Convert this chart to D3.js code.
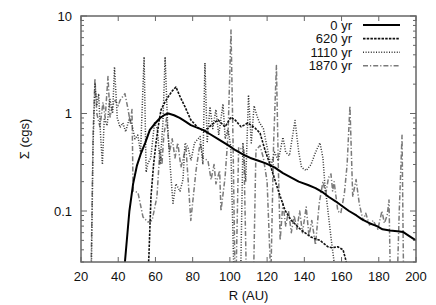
<!DOCTYPE html>
<html>
<head>
<meta charset="utf-8">
<script src="https://cdn.jsdelivr.net/npm/d3@7"></script>
<style>
  body { margin: 0; background: #fff; }
  text { font-family: "Liberation Sans", Arial, sans-serif; fill: #111; }
</style>
</head>
<body>
<svg id="chart" width="436" height="305"></svg>
<script>
// series: [R (AU), sigma (cgs)]
var yr0 = [[42,0.015],[43.6,0.03],[46,0.1],[48,0.19],[50,0.29],[52,0.38],[54.5,0.5],[57,0.68],[60,0.8],
  [62.5,0.9],[65,0.97],[67,1.0],[70,0.96],[73,0.9],[76,0.83],[79,0.76],[82,0.72],[85.5,0.68],[89,0.62],
  [93.5,0.55],[97,0.5],[100,0.46],[103,0.42],[107,0.38],[111,0.35],[115,0.33],[119,0.31],[124,0.28],
  [128.5,0.245],[133,0.22],[137,0.2],[142,0.185],[146,0.172],[150,0.155],[153,0.14],[157,0.125],[161,0.11],
  [164,0.1],[168,0.09],[171,0.082],[175,0.075],[179,0.07],[182,0.065],[186,0.063],[190,0.062],[193,0.061],
  [196,0.056],[200,0.05]];

var yr620 = [[55.5,0.015],[56.5,0.035],[57.6,0.14],[59,0.3],[60.3,0.5],[62,0.85],[63,1.09],[65,1.3],
  [66.7,1.47],[69,1.7],[71,1.87],[73.5,1.45],[75.9,1.17],[79,0.86],[83,0.71],[86,0.66],[88,0.7],[90,0.76],
  [93.6,0.86],[97.4,0.73],[100.6,0.92],[103,0.85],[106,0.73],[109.7,0.8],[113.5,0.71],[116.2,0.63],
  [118.9,0.42],[122.1,0.28],[125.9,0.164],[129.6,0.102],[132.8,0.081],[138.2,0.064],[143.6,0.054],
  [148.4,0.05],[152.7,0.043],[155,0.042],[158,0.043],[160.8,0.04],[162,0.033],[163.5,0.025],[165,0.015]];

var yr1110 = [[24,0.01],[25.5,0.02],[26.5,0.5],[27.5,2.0],[28.5,1.2],[29.5,1.6],[30.5,0.6],[31.5,0.3],
  [32.5,0.9],[34,0.75],[35.5,1.4],[37,1.0],[38,3.0],[39.5,0.9],[41,0.72],[42.5,0.8],[44,0.65],[46,0.9],
  [47.5,0.75],[49,0.55],[50.5,0.6],[52,0.4],[53.9,3.8],[55,0.25],[56,0.31],[57.5,0.35],[59.5,0.8],[61,0.7],
  [62.5,0.3],[64,0.8],[65.2,3.8],[66.5,0.8],[67.8,0.31],[69.4,0.12],[71,0.19],[73.2,0.16],[74.8,0.21],
  [75.9,0.5],[77.5,0.45],[79.1,0.33],[81,0.5],[84,0.58],[85.5,0.3],[86.6,3.3],[87.8,0.5],[89.3,1.17],
  [90.8,0.7],[92.5,1.1],[94,0.6],[96.3,1.25],[97.5,0.55],[99,0.7],[100.5,0.45],[102,0.03],[103.5,0.01],
  [105.5,0.01],[107,0.5],[108.5,0.2],[110,1.55],[111.5,0.5],[113,1.2],[114.5,0.95],[116,0.8],[118,0.7],
  [120,0.45],[122,0.29],[124,0.4],[126,0.33],[128.5,0.57],[130,0.4],[132,0.37],[135,0.85],[137,0.4],
  [138.5,0.28],[141,0.26],[143.6,0.3],[146,0.4],[148.4,0.5],[150,0.35],[151,0.19],[152.7,0.1],
  [154.3,0.054],[156,0.03],[157,0.01]];

var yr1870 = [[24.5,0.01],[25.5,0.03],[26.5,0.6],[27.5,2.3],[28.5,1.0],[30.2,0.73],[31.8,1.3],[33,0.9],
  [34.5,2.4],[35.6,0.92],[37,1.2],[38.3,1.37],[40,1.2],[41,1.37],[42.5,1.5],[43.6,1.6],[45.3,1.1],
  [46.5,0.8],[47.4,1.1],[48,0.16],[50.6,0.155],[53.3,0.087],[56,0.077],[58.2,0.08],[60.8,0.14],[62.4,0.42],
  [63.5,0.3],[64.5,0.6],[66,0.9],[67.5,0.4],[69,0.55],[70.5,0.35],[72,0.5],[73.7,0.28],[76.4,0.45],
  [79,0.08],[81.8,0.26],[84,0.5],[85.5,0.35],[88.2,0.33],[89.9,0.21],[91.5,0.3],[92.5,0.19],[94.5,0.26],
  [95.2,0.1],[97.4,0.22],[99,0.6],[100.6,7.2],[101.7,0.5],[103,0.01],[104.7,0.45],[107.5,0.42],[109.2,0.01],
  [112.4,0.01],[114,0.42],[116.2,0.47],[118,0.35],[120,0.2],[122,0.02],[123.5,0.5],[125,3.1],[126,0.3],
  [127,0.05],[128.5,0.12],[130,0.07],[131.5,0.1],[133,0.06],[134.5,0.09],[136,0.065],[137.5,0.1],[139,0.06],
  [141,0.11],[142.5,0.055],[144,0.08],[146,0.045],[148,0.12],[150,0.2],[151.5,0.15],[153,0.22],[154.3,0.24],
  [155.2,0.16],[156,0.2],[158,0.1],[159.6,0.095],[161.5,0.15],[163,0.3],[164.5,1.2],[166,0.14],[167.8,0.21],
  [169.5,0.12],[171.5,0.08],[173,0.095],[175,0.072],[177,0.08],[179.5,0.065],[181.7,0.1],[183,0.075],
  [184.5,0.09],[185.5,0.13],[186.5,0.01],[189.5,0.01],[191,0.1],[192.5,0.6],[193.5,0.01],[200,0.01]];

var seriesNames = ["0 yr", "620 yr", "1110 yr", "1870 yr"];
var xTicks = [20, 40, 60, 80, 100, 120, 140, 160, 180, 200];
var yTicks = [0.1, 1, 10];
var yTickLabels = ["0.1", "1", "10"];

var svg = d3.select('#chart');
var pl = 81, pr = 416, pt = 16, pb = 262;

var x = d3.scaleLinear().domain([20, 200]).range([pl, pr]);
var y = d3.scaleLog().domain([0.03, 10]).range([pb, pt]);

// minor log ticks
var yMinor = [];
[0.01, 0.1, 1].forEach(function(d) {
  for (var k = 2; k <= 9; k++) {
    var v = d * k;
    if (v >= 0.03 && v <= 10) yMinor.push(v);
  }
});

svg.append("clipPath").attr("id", "clip")
  .append("rect").attr("x", pl).attr("y", pt)
  .attr("width", pr - pl).attr("height", pb - pt);

var line = d3.line()
  .x(function(d) { return x(d[0]); })
  .y(function(d) { return y(d[1]); });

var styles = [
  { data: yr0, stroke: "#000", width: 2, dash: null },
  { data: yr620, stroke: "#111", width: 1.6, dash: "2.5,1.2" },
  { data: yr1110, stroke: "#333", width: 1.5, dash: "1,1.6" },
  { data: yr1870, stroke: "#7a7a7a", width: 1.5, dash: "5,2,1.2,2" }
];

var g = svg.append("g").attr("clip-path", "url(#clip)");
// draw back to front so solid line stays on top
[3, 2, 1, 0].forEach(function(i) {
  var s = styles[i];
  g.append("path")
    .attr("d", line(s.data))
    .attr("fill", "none")
    .attr("stroke", s.stroke)
    .attr("stroke-width", s.width)
    .attr("stroke-dasharray", s.dash)
    .attr("stroke-linejoin", "round");
});

// frame and ticks (gnuplot style, mirrored)
var axisColor = "#666";
var tg = svg.append("g").attr("stroke", axisColor).attr("stroke-width", 1);
xTicks.forEach(function(t) {
  tg.append("line").attr("x1", x(t)).attr("x2", x(t)).attr("y1", pb).attr("y2", pb - 5);
  tg.append("line").attr("x1", x(t)).attr("x2", x(t)).attr("y1", pt).attr("y2", pt + 5);
});
yTicks.forEach(function(t) {
  tg.append("line").attr("x1", pl).attr("x2", pl + 6).attr("y1", y(t)).attr("y2", y(t));
  tg.append("line").attr("x1", pr).attr("x2", pr - 6).attr("y1", y(t)).attr("y2", y(t));
});
yMinor.forEach(function(t) {
  tg.append("line").attr("x1", pl).attr("x2", pl + 3).attr("y1", y(t)).attr("y2", y(t));
  tg.append("line").attr("x1", pr).attr("x2", pr - 3).attr("y1", y(t)).attr("y2", y(t));
});

svg.append("rect")
  .attr("x", pl).attr("y", pt)
  .attr("width", pr - pl).attr("height", pb - pt)
  .attr("fill", "none").attr("stroke", axisColor).attr("stroke-width", 1.5);

// tick labels
svg.append("g").selectAll("text").data(xTicks).enter().append("text")
  .attr("x", function(d) { return x(d); })
  .attr("y", 281)
  .attr("text-anchor", "middle")
  .attr("font-size", 13)
  .text(function(d) { return d; });

svg.append("g").selectAll("text").data(yTicks).enter().append("text")
  .attr("x", 72)
  .attr("y", function(d) { return y(d) + 4.5; })
  .attr("text-anchor", "end")
  .attr("font-size", 13)
  .text(function(d, i) { return yTickLabels[i]; });

// axis titles
svg.append("text")
  .attr("x", (pl + pr) / 2).attr("y", 300)
  .attr("text-anchor", "middle").attr("font-size", 13)
  .text("R (AU)");

svg.append("text")
  .attr("transform", "translate(29," + ((pt + pb) / 2) + ") rotate(-90)")
  .attr("text-anchor", "middle").attr("font-size", 13)
  .text("Σ (cgs)");

// legend
var leg = svg.append("g");
seriesNames.forEach(function(name, i) {
  var ly = 25 + i * 13.6;
  leg.append("text")
    .attr("x", 352).attr("y", ly + 4.5)
    .attr("text-anchor", "end").attr("font-size", 13)
    .text(name);
  leg.append("line")
    .attr("x1", 363).attr("x2", 400).attr("y1", ly).attr("y2", ly)
    .attr("stroke", styles[i].stroke)
    .attr("stroke-width", styles[i].width)
    .attr("stroke-dasharray", styles[i].dash);
});
</script>
</body>
</html>
